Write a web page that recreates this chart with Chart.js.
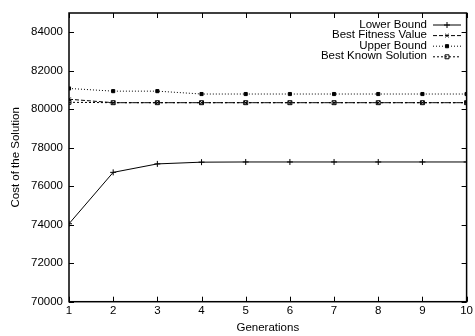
<!DOCTYPE html>
<html><head><meta charset="utf-8">
<script src="https://cdn.jsdelivr.net/npm/chart.js@4/dist/chart.umd.min.js"></script>
<style>html,body{margin:0;padding:0;background:#fff}#wrap{width:475px;height:336px}</style>
</head><body><div id="wrap"><canvas id="c" width="475" height="336"></canvas></div>
<script>
const generations = [1,2,3,4,5,6,7,8,9,10];
const lowerBound = [74050,76720,77160,77250,77260,77260,77260,77260,77260,77260];
const bestFitness = [80520,80340,80340,80340,80340,80340,80340,80340,80340,80340];
const upperBound = [81080,80940,80940,80790,80790,80790,80790,80790,80790,80790];
const bestKnown = [80360,80340,80340,80340,80340,80340,80340,80340,80340,80340];
const yTicks = [70000,72000,74000,76000,78000,80000,82000,84000];
const FONT = "'Liberation Sans', Arial, Helvetica, sans-serif";

const frame = {
  id:'frame',
  afterDraw(chart){
    const {ctx, chartArea:a, scales:{x,y}} = chart;
    ctx.save();
    ctx.strokeStyle='#000'; ctx.lineWidth=1.5;
    ctx.strokeRect(a.left,a.top,a.right-a.left,a.bottom-a.top);
    ctx.lineWidth=1;
    ctx.beginPath();
    const L=5;
    yTicks.forEach(v=>{const py=Math.round(y.getPixelForValue(v))+0.5;
      ctx.moveTo(a.left,py);ctx.lineTo(a.left+L,py);ctx.moveTo(a.right,py);ctx.lineTo(a.right-L,py);});
    generations.forEach(v=>{const px=Math.round(x.getPixelForValue(v))+0.5;
      ctx.moveTo(px,a.bottom);ctx.lineTo(px,a.bottom-L);ctx.moveTo(px,a.top);ctx.lineTo(px,a.top+L);});
    ctx.stroke();
    // legend
    ctx.font = "11.5px "+FONT; ctx.fillStyle='#000'; ctx.textAlign='right'; ctx.textBaseline='middle';
    chart.data.datasets.forEach((ds,i)=>{
      const ly = 24.5 + i*10.6;
      ctx.fillText(ds.label, 427, ly);
      ctx.setLineDash(ds.borderDash||[]); ctx.lineWidth=1;
      ctx.beginPath(); ctx.moveTo(433,ly+0.5); ctx.lineTo(461,ly+0.5); ctx.stroke();
      ctx.setLineDash([]);
      ctx.fillStyle = ds.pointBackgroundColor || ds.backgroundColor;
      Chart.helpers.drawPoint(ctx,{pointStyle:ds.pointStyle,radius:ds.pointRadius,borderWidth:1,rotation:0},447,ly+0.5);
      ctx.fillStyle='#000';
    });
    ctx.restore();
  }
};

const common = {borderColor:'#000',backgroundColor:'#000',borderWidth:1,pointRadius:2.5,pointBorderWidth:1,tension:0,fill:false};
new Chart(document.getElementById('c'),{
  type:'line',
  data:{labels:generations,datasets:[
    Object.assign({},common,{label:'Lower Bound',data:lowerBound,pointStyle:'cross',pointRadius:3,borderDash:[]}),
    Object.assign({},common,{label:'Best Fitness Value',data:bestFitness,pointStyle:'crossRot',borderDash:[4,2]}),
    Object.assign({},common,{label:'Upper Bound',data:upperBound,pointStyle:'rect',pointRadius:2.2,borderDash:[1,2]}),
    Object.assign({},common,{label:'Best Known Solution',data:bestKnown,pointStyle:'rect',pointRadius:2.8,backgroundColor:'rgba(0,0,0,0)',borderDash:[2,2]})
  ].map(d=>Object.assign(d,{data:d.data.map((v,i)=>({x:generations[i],y:v}))}))},
  options:{
    responsive:false,animation:false,
    layout:{padding:{top:13,right:6,left:0,bottom:0}},
    plugins:{legend:{display:false},tooltip:{enabled:false}},
    scales:{
      x:{type:'linear',min:1,max:10,
        afterFit(s){s.height=34.3;},
        afterBuildTicks(s){s.ticks=generations.map(v=>({value:v}));},
        grid:{display:false,drawTicks:false},border:{display:false},
        ticks:{color:'#000',font:{family:FONT,size:11.5},padding:2,maxRotation:0,autoSkip:false},
        title:{display:true,text:'Generations',color:'#000',font:{family:FONT,size:11.5},padding:{top:0,bottom:1}}},
      y:{type:'linear',min:70000,max:85000,
        afterFit(s){s.width=69;},
        afterBuildTicks(s){s.ticks=yTicks.map(v=>({value:v}));},
        grid:{display:false,drawTicks:false},border:{display:false},
        ticks:{color:'#000',font:{family:FONT,size:11.5},padding:6,callback:v=>String(v)},
        title:{display:true,text:'Cost of the Solution',color:'#000',font:{family:FONT,size:11.5},padding:{top:9,bottom:0}}}
    }
  },
  plugins:[frame]
});
</script></body></html>
